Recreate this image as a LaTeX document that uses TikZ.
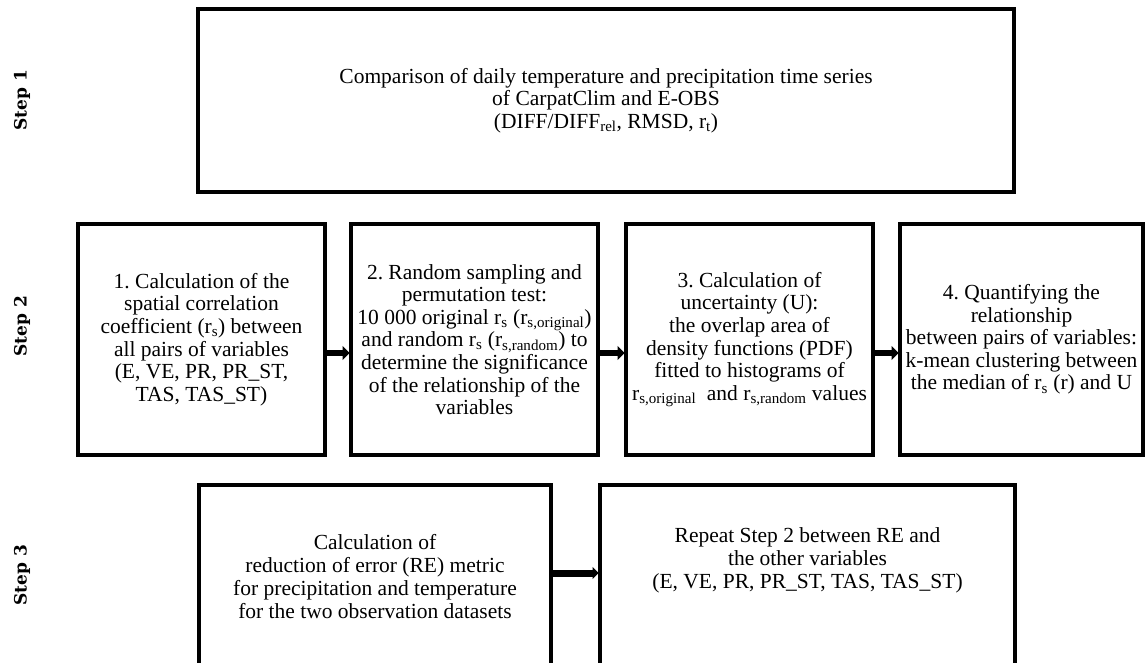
\documentclass[tikz,border=0pt]{standalone}
\usepackage{fontspec}
\setmainfont{Liberation Serif}
\newfontfamily\stepfont{DejaVu Serif}
\usetikzlibrary{arrows.meta}
\frenchspacing

\begin{document}
\begin{tikzpicture}[x=1pt,y=-1pt,
		box/.style={draw,line width=3.2pt,inner sep=0pt,outer sep=0pt,align=center,
			font=\fontsize{21.5}{22.6}\selectfont},
		txt/.style={align=center,font=\fontsize{21.5}{23}\selectfont},
		steplabel/.style={rotate=90,font=\stepfont\bfseries\fontsize{17}{19}\selectfont},
		arr/.style={line width=5.5pt,shorten >=1.5pt,-{Triangle[length=7pt,width=14pt]}},
		bigarr/.style={line width=7pt,shorten >=1.5pt,-{Triangle[length=6pt,width=12pt]}}]
	\clip (0,0) rectangle (1145,663);
	\node (St1) at (22,100) [steplabel] {Step 1};
	\node (St2) at (22,326) [steplabel] {Step 2};
	\node (St3) at (22,575) [steplabel] {Step 3};
	\node (Cmp) at (606,100.5) [box,minimum width=816pt,minimum height=183pt]
		{Comparison of daily temperature and precipitation time series\\
		 of CarpatClim and E-OBS\\
		 (DIFF/DIFF\textsubscript{rel}, RMSD, r\textsubscript{t})};
	\node (Cor) at (201.5,339.5) [box,minimum width=247pt,minimum height=231pt]
		{1. Calculation of the\\spatial correlation\\coefficient (r\textsubscript{s}) between\\
		 all pairs of variables\\(E, VE, PR, PR\_ST,\\TAS, TAS\_ST)};
	\node (Rnd) at (474.5,339.5) [box,minimum width=247pt,minimum height=231pt]
		{2. Random sampling and\\permutation test:\\
		 10 000 original r\textsubscript{s} (r\textsubscript{s,original})\\
		 and random r\textsubscript{s} (r\textsubscript{s,random}) to\\
		 determine the significance\\of the relationship of the\\variables};
	\node (Unc) at (749.5,339.5) [box,minimum width=247pt,minimum height=231pt]
		{3. Calculation of\\uncertainty (U):\\the overlap area of\\density functions (PDF)\\
		 fitted to histograms of\\r\textsubscript{s,original} \ and r\textsubscript{s,random} values};
	\node (Qua) at (1021.5,339.5) [box,minimum width=243pt,minimum height=231pt]
		{4. Quantifying the\\relationship\\between pairs of variables:\\
		 k-mean clustering between\\the median of r\textsubscript{s} (r) and U};
	\node (Red) at (375,582.5) [box,minimum width=352pt,minimum height=195pt] {};
	\node (Rep) at (807.5,582.5) [box,minimum width=415pt,minimum height=195pt] {};
	\node (RedT) at (375,577) [txt] {Calculation of\\reduction of error (RE) metric\\
		for precipitation and temperature\\for the two observation datasets};
	\node (RepT) at (807.5,560) [txt] {Repeat Step 2 between RE and\\the other variables\\
		(E, VE, PR, PR\_ST, TAS, TAS\_ST)};
	\draw[arr] ([yshift=-13.5pt]Cor.east) -- ([yshift=-13.5pt]Rnd.west);
	\draw[arr] ([yshift=-13.5pt]Rnd.east) -- ([yshift=-13.5pt]Unc.west);
	\draw[arr] ([yshift=-13.5pt]Unc.east) -- ([yshift=-13.5pt]Qua.west);
	\draw[bigarr] ([yshift=9.5pt]Red.east) -- ([yshift=9.5pt]Rep.west);
\end{tikzpicture}
\end{document}
